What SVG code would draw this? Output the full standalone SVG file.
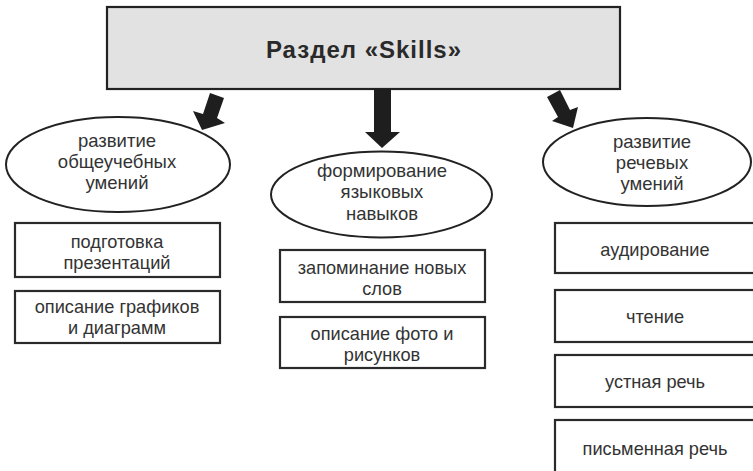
<svg xmlns="http://www.w3.org/2000/svg" width="753" height="471" viewBox="0 0 753 471">
<style>
.bg{fill:#fff}
.title{fill:#e2e2e2;stroke:#222;stroke-width:2.2}
.ell{fill:#fff;stroke:#222;stroke-width:2}
.box{fill:#fff;stroke:#2a2a2a;stroke-width:2.2}
.arr{fill:#1e1e1e;stroke:none}
text{font-family:"Liberation Sans",Arial,sans-serif;fill:#333;text-anchor:middle}
.t1{font-size:24px;font-weight:bold;fill:#2a2a2a;letter-spacing:1px}
.te{font-size:18.5px}
.tr{font-size:18.2px}
</style>
<rect class="bg" x="0" y="0" width="753" height="471"/>
<g id="title">
<rect class="title" x="107" y="7" width="513" height="82"/>
<text class="t1" x="364" y="58">Раздел «Skills»</text>
</g>
<g id="connectors">
<polygon class="arr" points="210,93 224,98 217,118 225,123 202,130 193,111 203,114"/>
<polygon class="arr" points="374,89 391,89 391,132 400,132 382,148 365,132 374,132"/>
<polygon class="arr" points="560,90 547,97 558,117 552,121 573,128 578,107 570,110"/>
</g>
<g id="n-obsh">
<ellipse class="ell" cx="118" cy="164.5" rx="112" ry="47.5"/>
<text class="te" x="117" y="147">развитие</text>
<text class="te" x="117" y="168">общеучебных</text>
<text class="te" x="117" y="189">умений</text>
</g>
<g id="n-yaz">
<ellipse class="ell" cx="381.5" cy="194.5" rx="110.5" ry="43"/>
<text class="te" x="382" y="177">формирование</text>
<text class="te" x="382" y="198">языковых</text>
<text class="te" x="382" y="220">навыков</text>
</g>
<g id="n-rech">
<ellipse class="ell" cx="647" cy="162" rx="104" ry="44"/>
<text class="te" x="652" y="148">развитие</text>
<text class="te" x="652" y="169">речевых</text>
<text class="te" x="652" y="190">умений</text>
</g>
<g id="b-prez">
<rect class="box" x="15" y="223" width="205" height="54"/>
<text class="tr" x="117" y="248">подготовка</text>
<text class="tr" x="117" y="269">презентаций</text>
</g>
<g id="b-graf">
<rect class="box" x="15" y="291" width="205" height="52"/>
<text class="tr" x="117" y="313">описание графиков</text>
<text class="tr" x="117" y="334">и диаграмм</text>
</g>
<g id="b-slov">
<rect class="box" x="280" y="250" width="205" height="52"/>
<text class="tr" x="382" y="274">запоминание новых</text>
<text class="tr" x="382" y="295">слов</text>
</g>
<g id="b-foto">
<rect class="box" x="280" y="317" width="205" height="51"/>
<text class="tr" x="382" y="340">описание фото и</text>
<text class="tr" x="382" y="361">рисунков</text>
</g>
<g id="b-aud">
<rect class="box" x="555" y="223" width="210" height="50"/>
<text class="tr" x="655" y="256">аудирование</text>
</g>
<g id="b-cht">
<rect class="box" x="555" y="290" width="210" height="52"/>
<text class="tr" x="655" y="323">чтение</text>
</g>
<g id="b-ust">
<rect class="box" x="555" y="355" width="210" height="52"/>
<text class="tr" x="655" y="388">устная речь</text>
</g>
<g id="b-pis">
<rect class="box" x="555" y="420" width="210" height="60"/>
<text class="tr" x="655" y="455">письменная речь</text>
</g>
</svg>
